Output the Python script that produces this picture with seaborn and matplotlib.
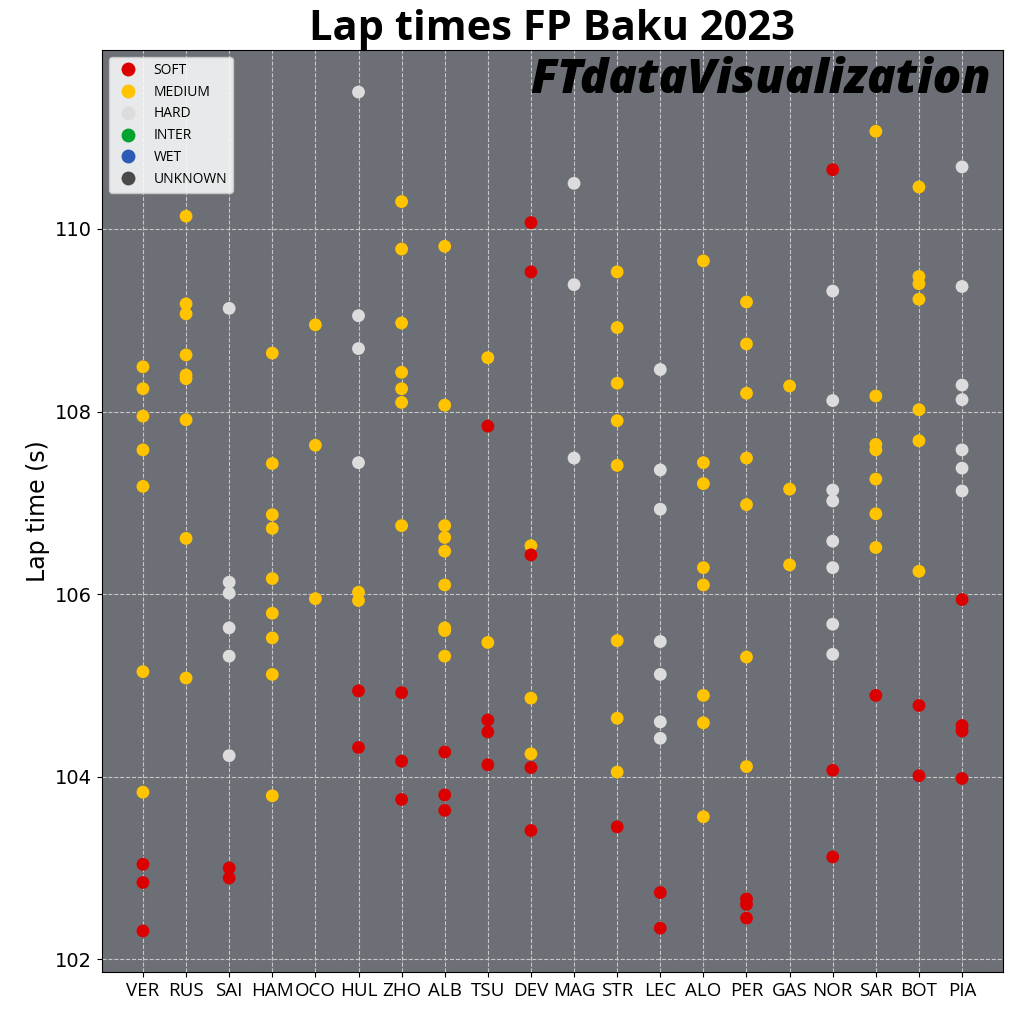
import numpy as np
import pandas as pd
import matplotlib.pyplot as plt
import seaborn as sns
from matplotlib.lines import Line2D

# drivers in x order
drivers = ["VER", "RUS", "SAI", "HAM", "OCO", "HUL", "ZHO", "ALB", "TSU", "DEV",
           "MAG", "STR", "LEC", "ALO", "PER", "GAS", "NOR", "SAR", "BOT", "PIA"]

# lap times (s) per driver, one list per compound
soft = [[103.04, 102.84, 102.31], [], [103.00, 102.89], [], [],
        [104.94, 104.32], [104.92, 104.17, 103.75], [104.27, 103.80, 103.63],
        [107.84, 104.62, 104.49, 104.13], [110.07, 109.53, 106.43, 104.10, 103.41],
        [], [103.45], [102.73, 102.34], [], [102.66, 102.60, 102.45], [],
        [110.65, 104.07, 103.12], [104.89], [104.78, 104.01],
        [105.94, 104.56, 104.50, 103.98]]

medium = [[108.49, 108.25, 107.95, 107.58, 107.18, 105.15, 103.83],
          [110.14, 109.18, 109.07, 108.62, 108.40, 108.36, 107.91, 106.61, 105.08],
          [],
          [108.64, 107.43, 106.87, 106.72, 106.17, 105.79, 105.52, 105.12, 103.79],
          [108.95, 107.63, 105.95],
          [106.02, 105.93],
          [110.30, 109.78, 108.97, 108.43, 108.25, 108.10, 106.75],
          [109.81, 108.07, 106.75, 106.62, 106.47, 106.10, 105.63, 105.60, 105.32],
          [108.59, 105.47],
          [106.53, 104.86, 104.25],
          [],
          [109.53, 108.92, 108.31, 107.90, 107.41, 105.49, 104.64, 104.05],
          [],
          [109.65, 107.44, 107.21, 106.29, 106.10, 104.89, 104.59, 103.56],
          [109.20, 108.74, 108.20, 107.49, 106.98, 105.31, 104.11],
          [108.28, 107.15, 106.32],
          [],
          [111.07, 108.17, 107.64, 107.58, 107.26, 106.88, 106.51],
          [110.46, 109.48, 109.40, 109.23, 108.02, 107.68, 106.25],
          []]

hard = [[], [], [109.13, 106.13, 106.01, 105.63, 105.32, 104.23], [], [],
        [111.50, 109.05, 108.69, 107.44], [], [], [], [],
        [110.50, 109.39, 107.49], [],
        [108.46, 107.36, 106.93, 105.48, 105.12, 104.60, 104.42], [], [], [],
        [109.32, 108.12, 107.14, 107.02, 106.58, 106.29, 105.67, 105.34], [], [],
        [110.68, 109.37, 108.29, 108.13, 107.58, 107.38, 107.13]]

compounds = ["SOFT", "MEDIUM", "HARD", "INTER", "WET", "UNKNOWN"]
colors = ["#da0000", "#ffc300", "#dcdcdc", "#00a42e", "#2c5bb5", "#4a4a4a"]
palette = dict(zip(compounds, colors))

# long table for seaborn
rows = []
for name, data in [("MEDIUM", medium), ("HARD", hard), ("SOFT", soft)]:
    for drv, laps in zip(drivers, data):
        for t in laps:
            rows.append({"Driver": drv, "LapTime": t, "Compound": name})
df = pd.DataFrame(rows)
df["Driver"] = pd.Categorical(df["Driver"], categories=drivers, ordered=True)
df["x"] = df["Driver"].cat.codes

fig = plt.figure(figsize=(10.24, 10.24), dpi=100)
ax = fig.add_axes([0.0996, 0.0508, 0.8799, 0.9003])
ax.set_facecolor("#6c6f75")

sns.scatterplot(data=df, x="x", y="LapTime", hue="Compound", palette=palette,
                s=85, linewidth=0, legend=False, ax=ax, zorder=3)

ax.set_xticks(range(len(drivers)))
ax.set_xticklabels(drivers, fontfamily="Open Sans", fontsize=13.5)
ax.set_xlim(-0.95, len(drivers) - 0.05)
ax.set_ylim(101.86, 111.96)
ax.set_yticks([102, 104, 106, 108, 110])
ax.tick_params(axis="y", labelsize=14)
ax.set_xlabel("")
ax.set_ylabel("Lap time (s)", fontsize=17)
ax.grid(True, linestyle="--", color="#c8c8c8", linewidth=0.8, zorder=0)
ax.set_axisbelow(True)

ax.set_title("Lap times FP Baku 2023", fontsize=30, fontweight="bold",
             fontfamily="Open Sans", pad=4)

ax.text(0.986, 0.992, "FTdataVisualization", transform=ax.transAxes,
        ha="right", va="top", fontsize=34, fontweight="heavy", style="italic",
        fontfamily="Open Sans", color="black", zorder=5)

handles = [Line2D([0], [0], marker="o", linestyle="", markersize=10,
                  markerfacecolor=c, markeredgewidth=0, label=n)
           for n, c in zip(compounds, colors)]
leg = ax.legend(handles=handles, loc="upper left",
                prop={"family": "Open Sans", "size": 10}, framealpha=0.85,
                borderaxespad=0.5)

fig.savefig("out.png", dpi=100)
